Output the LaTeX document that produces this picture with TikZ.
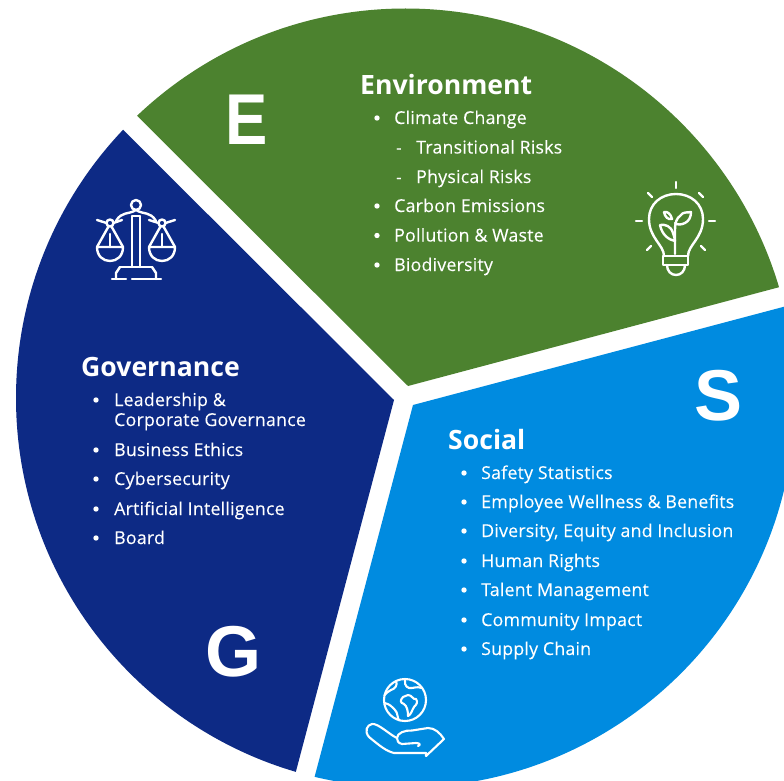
\documentclass[tikz,border=0pt]{standalone}
\usepackage{fontspec}
\setmainfont{Open Sans}[FakeBold=0.12,LetterSpace=1.2]
\newfontfamily\headfont{Open Sans}[BoldFont=Open Sans Bold]
\newfontfamily\bigfont{Liberation Sans}
\newfontfamily\efont{Liberation Sans}[FakeStretch=0.88]
\definecolor{envgreen}{HTML}{4C822F}
\definecolor{socblue}{HTML}{008BE0}
\definecolor{govblue}{HTML}{0D2A85}
\tikzset{
  itemtext/.style={anchor=base west,inner sep=0pt,text=white,font=\fontsize{17.75}{17.75}\selectfont},
  headtext/.style={anchor=base west,inner sep=0pt,text=white,font=\fontsize{26.6}{26.6}\selectfont\headfont\bfseries},
  lettertext/.style={anchor=base,inner sep=0pt,text=white,font=\fontsize{72}{72}\selectfont\bigfont\bfseries},
  bul/.style={circle,fill=white,inner sep=0pt,minimum size=5.4pt},
  dashmark/.style={anchor=base west,inner sep=0pt,text=white,font=\fontsize{17}{17}\selectfont},
  icon/.style={draw=white,line width=2.4pt,line cap=round,line join=round},
}
\begin{document}
\begin{tikzpicture}[x=1pt,y=-1pt]
\useasboundingbox[fill=white] (0,0) rectangle (784,781);
\begin{scope}
  \clip (0,0) rectangle (784,781);
  \clip (405.5,398) circle [radius=389.5];
  \fill[envgreen] (408,386) -- (37,16) -- (400,-100) -- (900,-100) -- (900,255) -- cycle;
  \fill[socblue] (413,405) -- (900,276) -- (900,900) -- (282,900) -- cycle;
  \fill[govblue] (394,400) -- (23,30) -- (-100,30) -- (-100,900) -- (262,900) -- cycle;
\end{scope}
% letters
\node[lettertext,font=\fontsize{72}{72}\selectfont\efont\bfseries] (letE) at (247,145) {E};
\node[lettertext] (letS) at (719,420) {S};
\node[lettertext] (letG) at (233,676) {G};
% Environment
\node[headtext] (hE) at (360,95) {Environment};
\foreach \n/\y/\t in {a/124/Climate Change,b/212/Carbon Emissions,c/241.5/Pollution \& Waste,d/271/Biodiversity}{
  \node[bul] (eb\n) at (377,\y-6) {};
  \node[itemtext] (et\n) at (394,\y) {\t};
}
\node[dashmark] (ed1) at (396,153.5) {-};
\node[itemtext] (es1) at (416,153.5) {Transitional Risks};
\node[dashmark] (ed2) at (396,183) {-};
\node[itemtext] (es2) at (416,183) {Physical Risks};
% Social
\node[headtext] (hS) at (448,449) {Social};
\foreach \n/\y/\t in {a/479/Safety Statistics,b/508/Employee Wellness \& Benefits,c/537/{Diversity, Equity and Inclusion},d/567/Human Rights,e/596/Talent Management,f/626/Community Impact,g/655/Supply Chain}{
  \node[bul] (sb\n) at (464,\y-6) {};
  \node[itemtext] (st\n) at (481,\y) {\t};
}
% Governance
\node[headtext] (hG) at (81,376) {Governance};
\node[bul] (gb0) at (96,400) {};
\node[itemtext] (gt0) at (114,406) {Leadership \&};
\node[itemtext] (gt1) at (114,426) {Corporate Governance};
\foreach \n/\y/\t in {a/456/Business Ethics,b/485/Cybersecurity,c/515/Artificial Intelligence,d/544/Board}{
  \node[bul] (gb\n) at (96,\y-6) {};
  \node[itemtext] (gt\n) at (114,\y) {\t};
}
% scales icon
\begin{scope}[icon]
  \draw (136,205) circle [radius=5];
  \draw (132,216) -- (132,267) (140,216) -- (140,267) (132,216) -- (140,216);
  \draw (136,210) .. controls (128,215) and (122,211) .. (116,221);
  \draw (136,210) .. controls (144,215) and (150,211) .. (156,221);
  \draw (110,223) circle [radius=3.5];
  \draw (162,223) circle [radius=3.5];
  \draw (97,220) -- (106.5,223) (113.5,223) -- (122,220);
  \draw (149,220) -- (158.5,223) (165.5,223) -- (175,220);
  \foreach \dx in {0,52}{
    \begin{scope}[xshift=\dx pt]
      \draw (108.5,226.5) -- (97,247) (111.5,226.5) -- (123,247);
      \draw (110,234) -- (110,247);
      \draw (97,247) -- (123,247) .. controls (123,256) and (117,261) .. (110,261) .. controls (103,261) and (97,256) .. (97,247);
    \end{scope}
  }
  \draw (120,267) -- (152,267);
  \draw (112,279) -- (126,279) (132,279) -- (161,279);
  \draw (116,279) -- (116,273) -- (120,267) (152,267) -- (156,273) -- (156,279);
\end{scope}
% bulb icon
\begin{scope}[icon]
  \draw (664,256) .. controls (664,245) and (649,238) .. (649,219) .. controls (649,204) and (661,194) .. (676,194) .. controls (691,194) and (703,204) .. (703,219) .. controls (703,238) and (688,245) .. (688,256);
  \draw (663,256) rectangle (688,265);
  \draw (667,265) .. controls (667,271) and (671,275) .. (676,275) .. controls (681,275) and (685,271) .. (685,265);
  \draw (675.7,182) -- (675.7,188);
  \draw (648,193) -- (652,197) (703,197) -- (699,193);
  \draw (636,221) -- (642,221) (709,221) -- (715,221);
  \draw (647,250) -- (651,246) (701,246) -- (705,250);
  \draw (675,254) -- (675,230) .. controls (675,222) and (677,218) .. (680,216);
  \draw (680,216) .. controls (683,211) and (688,213) .. (691,212) .. controls (691,217) and (689,221) .. (685,223) .. controls (681,225) and (677,225) .. (675,223);
  \draw (660,225) .. controls (665,224) and (671,226) .. (673,233) .. controls (674,236) and (675,239) .. (675,241) .. controls (669,240) and (662,235) .. (660,225);
  \draw (664,212) .. controls (667,211) and (671,214) .. (672,219) .. controls (668,220) and (665,217) .. (664,212);
\end{scope}
% globe and hand icon
\begin{scope}[icon,line width=2.1pt]
  \draw (405,700) circle [radius=21];
  \draw (396,681) .. controls (398,685) and (395,689) .. (391,690) .. controls (388,691) and (387,693) .. (384.5,695);
  \draw (405,680) .. controls (404,686) and (408,689) .. (412,688) .. controls (417,687) and (420,687) .. (422,688);
  \draw (403,697) .. controls (400,700) and (400,703) .. (404,704) .. controls (407,706) and (408,711) .. (408,716) .. controls (411,715) and (412,710) .. (414,707) .. controls (417,704) and (418,702) .. (416,699) .. controls (413,700) and (412,695) .. (408,695) -- cycle;
  \draw (384.5,703) .. controls (390,704) and (392,707) .. (395,710) .. controls (398,713) and (397,717) .. (399,720.5);
  \draw (397,738) .. controls (397,733) and (405,730) .. (412,730.5) -- (428,728) .. controls (435,728) and (440,733) .. (444,739) -- (426,756) -- (426,753);
  \draw (397,738) .. controls (397,741) and (398,743) .. (402,744) -- (416,743) .. controls (420,743) and (421,745) .. (418,746);
  \draw (426,753) -- (394,753) .. controls (386,751) and (380,746) .. (369,737) .. controls (364,731) and (367,725) .. (372,724) .. controls (378,723) and (390,735) .. (397,738);
\end{scope}
\end{tikzpicture}
\end{document}
